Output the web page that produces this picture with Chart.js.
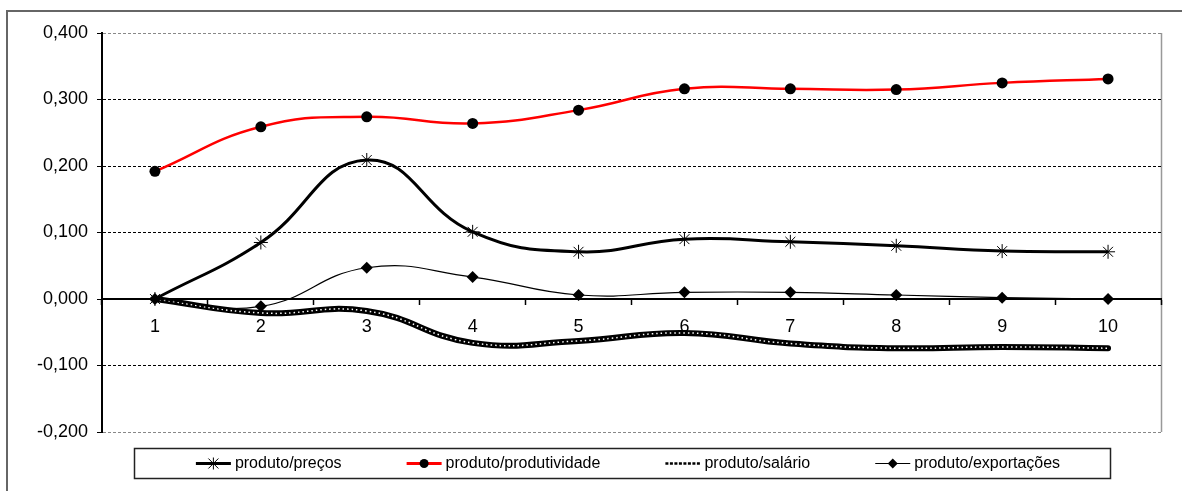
<!DOCTYPE html>
<html>
<head>
<meta charset="utf-8">
<script src="https://cdn.jsdelivr.net/npm/chart.js@4/dist/chart.umd.min.js"></script>
<style>
  html, body { margin: 0; padding: 0; background: #fff; }
  #wrap { width: 1182px; height: 491px; position: relative; }
</style>
</head>
<body>
<div id="wrap"><canvas id="chart"></canvas></div>
<script>
// categories and series
const categories = ['1', '2', '3', '4', '5', '6', '7', '8', '9', '10'];
const precos = [0, 0.085, 0.209, 0.101, 0.071, 0.090, 0.086, 0.080, 0.072, 0.071];
const produtividade = [0.192, 0.259, 0.274, 0.264, 0.284, 0.316, 0.316, 0.315, 0.325, 0.331];
const salario = [0, -0.021, -0.018, -0.066, -0.063, -0.051, -0.067, -0.074, -0.072, -0.074];
const exportacoes = [0, -0.011, 0.047, 0.033, 0.006, 0.010, 0.010, 0.006, 0.002, 0.000];
const yTicks = [-0.2, -0.1, 0, 0.1, 0.2, 0.3, 0.4];
const seriesNames = ['produto/preços', 'produto/produtividade', 'produto/salário', 'produto/exportações'];

const FONT = "'Liberation Sans', Arial, sans-serif";

function fmt(v) {
    return v.toFixed(3).replace('.', ',');
}

// outer frame, plot right border and the excel-like legend
const framePlugin = {
    id: 'frame',
    beforeDraw(chart) {
        const ctx = chart.ctx;
        const a = chart.chartArea;
        ctx.save();
        ctx.strokeStyle = '#666';
        ctx.lineWidth = 2;
        ctx.strokeRect(7, 11, 1300, 600);
        ctx.lineWidth = 1.5;
        ctx.strokeStyle = '#999';
        ctx.beginPath();
        ctx.moveTo(a.right + 0.5, a.top);
        ctx.lineTo(a.right + 0.5, a.bottom);
        ctx.stroke();
        ctx.restore();
    },
    afterDraw(chart) {
        const ctx = chart.ctx;
        ctx.save();
        // legend box
        ctx.strokeStyle = '#222';
        ctx.lineWidth = 1.5;
        ctx.strokeRect(134.5, 448.5, 976, 30);

        ctx.font = '16px ' + FONT;
        ctx.textBaseline = 'middle';
        const sampleW = 35, gapText = 4, gapItem = 65;
        const widths = seriesNames.map(n => sampleW + gapText + ctx.measureText(n).width);
        const total = widths.reduce((s, w) => s + w, 0) + gapItem * (seriesNames.length - 1);
        let x = 628 - total / 2;
        const y = 463.5;
        seriesNames.forEach((name, i) => {
            const cx = x + sampleW / 2;
            ctx.setLineDash([]);
            if (i === 0) {
                ctx.strokeStyle = '#000'; ctx.lineWidth = 3;
                ctx.beginPath(); ctx.moveTo(x, y); ctx.lineTo(x + sampleW, y); ctx.stroke();
                ctx.lineWidth = 1;
                ctx.beginPath();
                ctx.moveTo(cx - 5, y - 5); ctx.lineTo(cx + 5, y + 5);
                ctx.moveTo(cx + 5, y - 5); ctx.lineTo(cx - 5, y + 5);
                ctx.moveTo(cx, y - 6); ctx.lineTo(cx, y + 6);
                ctx.stroke();
            } else if (i === 1) {
                ctx.strokeStyle = '#f00'; ctx.lineWidth = 3;
                ctx.beginPath(); ctx.moveTo(x, y); ctx.lineTo(x + sampleW, y); ctx.stroke();
                ctx.fillStyle = '#000';
                ctx.beginPath(); ctx.arc(cx, y, 4.5, 0, Math.PI * 2); ctx.fill();
            } else if (i === 2) {
                ctx.strokeStyle = '#000'; ctx.lineWidth = 2.5;
                ctx.setLineDash([3, 1.5]);
                ctx.beginPath(); ctx.moveTo(x, y); ctx.lineTo(x + sampleW, y); ctx.stroke();
                ctx.setLineDash([]);
            } else {
                ctx.strokeStyle = '#000'; ctx.lineWidth = 1.2;
                ctx.beginPath(); ctx.moveTo(x, y); ctx.lineTo(x + sampleW, y); ctx.stroke();
                ctx.fillStyle = '#000';
                ctx.beginPath();
                ctx.moveTo(cx, y - 5); ctx.lineTo(cx + 5, y); ctx.lineTo(cx, y + 5); ctx.lineTo(cx - 5, y);
                ctx.closePath(); ctx.fill();
            }
            ctx.fillStyle = '#000';
            ctx.textAlign = 'left';
            ctx.fillText(name, x + sampleW + gapText, y + 0.5);
            x += widths[i] + gapItem;
        });
        ctx.restore();
    }
};

const ctx = document.getElementById('chart').getContext('2d');
new Chart(ctx, {
    type: 'line',
    data: {
        labels: categories,
        datasets: [
            {
                label: seriesNames[0],
                data: precos,
                borderColor: '#000',
                borderWidth: 3,
                tension: 0.45,
                pointStyle: 'star',
                pointRadius: 7,
                pointBorderWidth: 1,
                pointBorderColor: '#000',
                pointBackgroundColor: '#000',
                order: 3
            },
            {
                label: seriesNames[1],
                data: produtividade,
                borderColor: '#ff0000',
                borderWidth: 2.5,
                tension: 0.45,
                pointStyle: 'circle',
                pointRadius: 5.5,
                pointBorderWidth: 0,
                pointBackgroundColor: '#000',
                order: 1
            },
            {
                // white dotted core of the salário line
                label: seriesNames[2] + '-core',
                data: salario,
                borderColor: '#fff',
                borderWidth: 1.5,
                borderDash: [1.5, 3],
                tension: 0.45,
                pointRadius: 0,
                order: 4
            },
            {
                label: seriesNames[2],
                data: salario,
                borderColor: '#000',
                borderWidth: 6,
                borderCapStyle: 'round',
                tension: 0.45,
                pointRadius: 0,
                order: 5
            },
            {
                label: seriesNames[3],
                data: exportacoes,
                borderColor: '#000',
                borderWidth: 1.2,
                tension: 0.45,
                pointStyle: 'rectRot',
                pointRadius: 6,
                pointBorderWidth: 0,
                pointBackgroundColor: '#000',
                order: 2
            }
        ]
    },
    options: {
        responsive: true,
        maintainAspectRatio: false,
        animation: false,
        layout: { padding: { left: 0, top: 33, right: 21, bottom: 59 } },
        plugins: {
            legend: { display: false },
            tooltip: { enabled: false }
        },
        scales: {
            x: {
                type: 'category',
                position: { y: 0 },
                offset: true,
                border: { display: true, color: '#000', width: 2 },
                grid: {
                    offset: true,
                    drawOnChartArea: false,
                    drawTicks: true,
                    tickLength: 5,
                    tickColor: '#000',
                    tickWidth: 1.5
                },
                ticks: {
                    color: '#000',
                    font: { family: FONT, size: 18 },
                    padding: 12,
                    maxRotation: 0,
                    autoSkip: false
                }
            },
            y: {
                min: -0.2,
                max: 0.4,
                afterBuildTicks: scale => {
                    scale.ticks = yTicks.map(v => ({ value: v }));
                },
                afterFit: scale => { scale.width = 102; },
                border: { display: true, color: '#000', width: 2, dash: [3, 2] },
                grid: {
                    color: c => (c.tick && (c.tick.value === 0.4 || c.tick.value === -0.2)) ? '#888' : '#000',
                    lineWidth: 1,
                    drawTicks: true,
                    tickLength: 5,
                    tickColor: '#000',
                    tickBorderDash: []
                },
                ticks: {
                    color: '#000',
                    font: { family: FONT, size: 18 },
                    padding: 9,
                    callback: v => fmt(v)
                }
            }
        }
    },
    plugins: [framePlugin]
});
</script>
</body>
</html>
